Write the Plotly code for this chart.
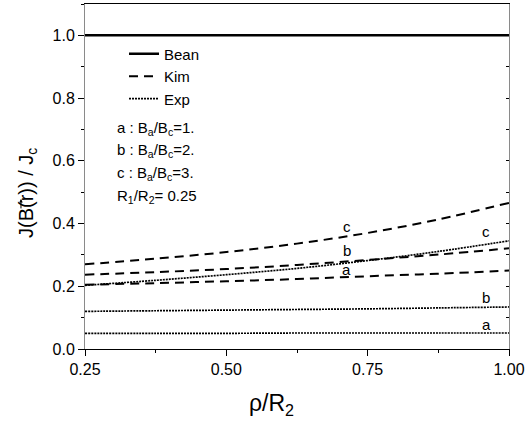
import plotly.graph_objects as go

rho = [0.25, 0.375, 0.5, 0.625, 0.75, 0.875, 1.0]
bean = [1.0, 1.0, 1.0, 1.0, 1.0, 1.0, 1.0]
kim_a = [0.205, 0.210, 0.216, 0.223, 0.232, 0.240, 0.250]
kim_b = [0.237, 0.245, 0.255, 0.268, 0.284, 0.301, 0.321]
kim_c = [0.270, 0.288, 0.309, 0.336, 0.370, 0.413, 0.466]
exp_a = [0.050, 0.050, 0.050, 0.051, 0.051, 0.051, 0.051]
exp_b = [0.120, 0.122, 0.124, 0.126, 0.128, 0.131, 0.134]
exp_c = [0.203, 0.219, 0.237, 0.257, 0.282, 0.311, 0.345]

x_ticks = [0.25, 0.50, 0.75, 1.00]
x_ticklabels = ["0.25", "0.50", "0.75", "1.00"]
y_ticks = [0.0, 0.2, 0.4, 0.6, 0.8, 1.0]
y_ticklabels = ["0.0", "0.2", "0.4", "0.6", "0.8", "1.0"]

legend_names = ["Bean", "Kim", "Exp"]
info_lines = [
    "a : B<sub>a</sub>/B<sub>c</sub>=1.",
    "b : B<sub>a</sub>/B<sub>c</sub>=2.",
    "c : B<sub>a</sub>/B<sub>c</sub>=3.",
    "R<sub>1</sub>/R<sub>2</sub>= 0.25",
]
# curve labels: (text, x, y)
curve_labels = [
    ("c", 0.713, 0.392), ("b", 0.713, 0.313), ("a", 0.713, 0.254),
    ("c", 0.960, 0.374), ("b", 0.960, 0.165), ("a", 0.960, 0.079),
]
x_title = "\u03C1/R<sub>2</sub>"
y_title = "J(B(r)) / J<sub>c</sub>"

FONT = "Liberation Sans, Arial, sans-serif"

fig = go.Figure()
fig.add_trace(go.Scatter(x=rho, y=bean, mode="lines", name=legend_names[0],
                         line=dict(color="black", width=2.5)))
for i, ys in enumerate([kim_a, kim_b, kim_c]):
    fig.add_trace(go.Scatter(x=rho, y=ys, mode="lines", name=legend_names[1],
                             showlegend=(i == 0), line_shape="spline",
                             line=dict(color="black", width=2, dash="9px,6px")))
for i, ys in enumerate([exp_a, exp_b, exp_c]):
    fig.add_trace(go.Scatter(x=rho, y=ys, mode="lines", name=legend_names[2],
                             showlegend=(i == 0), line_shape="spline",
                             line=dict(color="black", width=1.7, dash="2px,1px")))

# mirrored right axis with inside ticks
fig.add_trace(go.Scatter(x=rho, y=bean, xaxis="x", yaxis="y2", mode="lines",
                         showlegend=False, hoverinfo="skip",
                         line=dict(color="rgba(0,0,0,0)")))

annotations = []
info_y = [0.638, 0.574, 0.510, 0.443]
for t, yy in zip(info_lines, info_y):
    annotations.append(dict(x=0.071, y=yy, xref="paper", yref="paper",
                            text=t, showarrow=False, xanchor="left", yanchor="middle",
                            font=dict(family=FONT, size=15, color="black")))
for t, xx, yy in curve_labels:
    annotations.append(dict(x=xx, y=yy, text=t, showarrow=False,
                            xanchor="center", yanchor="middle",
                            font=dict(family=FONT, size=15, color="black")))
# axis titles
annotations.append(dict(x=0.441, y=-0.162, xref="paper", yref="paper", text=x_title,
                        showarrow=False, xanchor="center", yanchor="middle",
                        font=dict(family=FONT, size=23, color="black")))
annotations.append(dict(x=-0.137, y=0.452, xref="paper", yref="paper", text=y_title,
                        showarrow=False, xanchor="center", yanchor="middle", textangle=-90,
                        font=dict(family=FONT, size=20, color="black")))
# small vector arrow over r (drawn as an annotation arrow)
annotations.append(dict(x=-0.151, y=0.435, xref="paper", yref="paper", text="",
                        showarrow=True, ax=0, ay=11, axref="pixel", ayref="pixel",
                        arrowhead=2, arrowsize=0.7, arrowwidth=1, arrowcolor="black"))

fig.update_layout(
    width=528, height=421,
    margin=dict(l=85, r=19, t=4, b=72),
    paper_bgcolor="white", plot_bgcolor="white",
    font=dict(family=FONT, size=15, color="black"),
    showlegend=True,
    legend=dict(x=0.092, y=0.903, xanchor="left", yanchor="top",
                bgcolor="rgba(0,0,0,0)", borderwidth=0,
                font=dict(family=FONT, size=15, color="black"),
                itemwidth=30, tracegroupgap=0),
    xaxis=dict(range=[0.25, 1.0], tickvals=x_ticks, ticktext=x_ticklabels,
               ticks="outside", ticklen=6, tickwidth=1, tickcolor="black",
               showline=True, linecolor="black", linewidth=1, mirror=True,
               showgrid=False, zeroline=False,
               minor=dict(ticks="outside", ticklen=3, dtick=0.125, tick0=0.25,
                          tickcolor="black", showgrid=False),
               tickfont=dict(size=16)),
    yaxis=dict(range=[0, 1.1], tickvals=y_ticks, ticktext=y_ticklabels,
               ticks="outside", ticklen=6, tickwidth=1, tickcolor="black",
               showline=True, linecolor="#8a8a8a", linewidth=1, mirror=False,
               showgrid=False, zeroline=False,
               minor=dict(ticks="outside", ticklen=3, dtick=0.1, tick0=0,
                          tickcolor="black", showgrid=False),
               tickfont=dict(size=16)),
    yaxis2=dict(range=[0, 1.1], overlaying="y", side="right", showticklabels=False,
                ticks="inside", ticklen=3, dtick=0.1, tick0=0, tickcolor="black",
                showline=True, linecolor="#8a8a8a", linewidth=1,
                showgrid=False, zeroline=False),
    annotations=annotations,
)

fig.write_html("out.html", config={"displayModeBar": False},
               post_script="document.body.style.margin='0';document.body.style.overflow='hidden';")
